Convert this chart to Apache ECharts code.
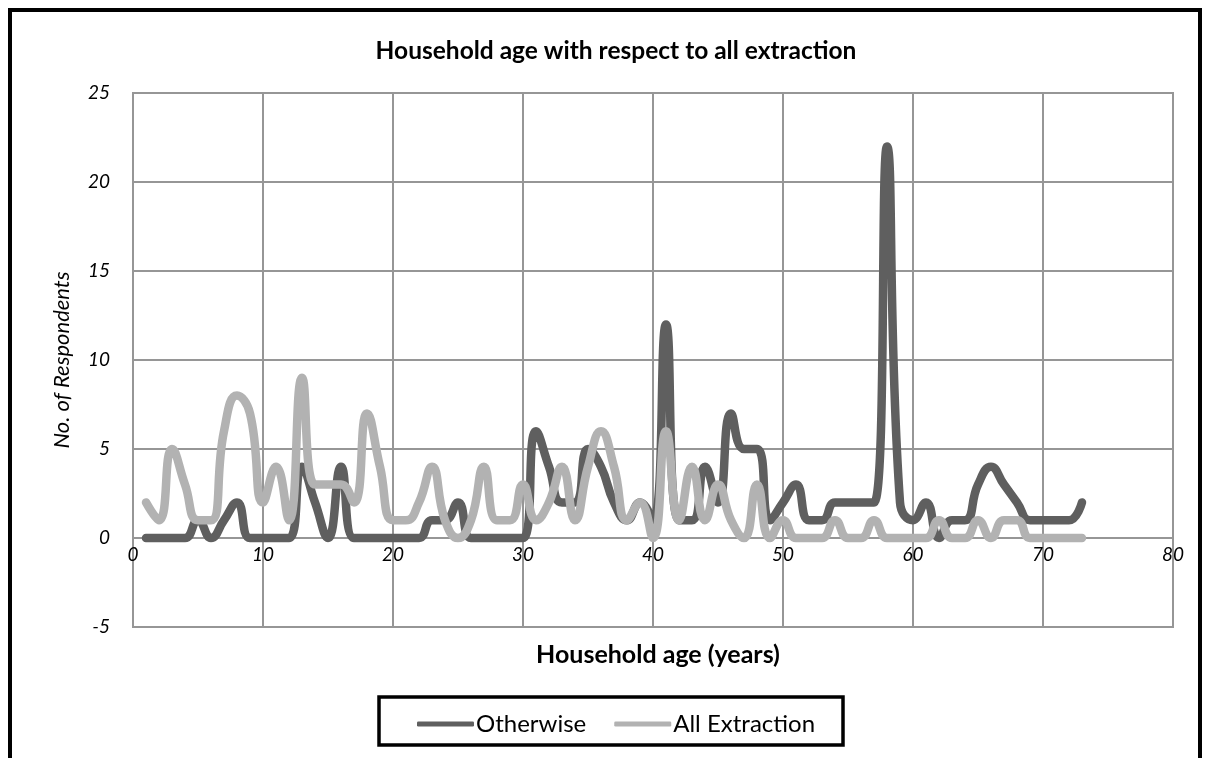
<!DOCTYPE html>
<html><head><meta charset="utf-8">
<script src="https://cdn.jsdelivr.net/npm/echarts@6/dist/echarts.min.js"></script>
<style>html,body{margin:0;padding:0;background:#fff}#c{width:1212px;height:758px}</style>
</head><body><div id="c"></div>
<script>
const ages = [1,2,3,4,5,6,7,8,9,10,11,12,13,14,15,16,17,18,19,20,21,22,23,24,25,26,27,28,29,30,31,32,33,34,35,36,37,38,39,40,41,42,43,44,45,46,47,48,49,50,51,52,53,54,55,56,57,58,59,60,61,62,63,64,65,66,67,68,69,70,71,72,73];
const otherwise = [0,0,0,0,1,0,1,2,0,0, 0,0,4,2,0,4,0,0,0,0, 0,0,1,1,2,0,0,0,0,0, 6,4,2,2,5,4,2,1,2,1, 12,1,1,4,2,7,5,5,1,2, 3,1,1,2,2,2,2,22,2,1, 2,0,1,1,3,4,3,2,1,1, 1,1,2];
const allExtraction = [2,1,5,3,1,1,6,8,7,2, 4,1,9,3,3,3,2,7,4,1, 1,2,4,1,0,1,4,1,1,3, 1,2,4,1,4,6,4,1,2,0, 6,1,4,1,3,1,0,3,0,1, 0,0,0,1,0,0,1,0,0,0, 0,1,0,0,1,0,1,1,0,0, 0,0,0];
const seriesNames = ['Otherwise', 'All Extraction'];
const xTicks = [0,10,20,30,40,50,60,70,80];
const yTicks = [-5,0,5,10,15,20,25];
const titleText = 'Household age with respect to all extraction';
const xName = 'Household age (years)';
const yName = 'No. of Respondents';

const FONT = 'Lato';
const chart = echarts.init(document.getElementById('c'), null, {renderer: 'canvas'});
const pairs = arr => ages.map((a, i) => [a, arr[i]]);
const gridColor = '#969696';
const darkColor = '#5f5f5f';
const lightColor = '#b2b2b2';

chart.setOption({
  animation: false,
  backgroundColor: '#fff',
  title: [
    {text: titleText, left: 611, top: 34, textAlign: 'center',
     textStyle: {fontFamily: FONT, fontWeight: 'bold', fontSize: 24.5, color: '#000'}},
    {text: xName, left: 653, top: 637, textAlign: 'center',
     textStyle: {fontFamily: FONT, fontWeight: 'bold', fontSize: 25, color: '#000'}}
  ],
  graphic: [
    {type: 'rect', shape: {x: 10, y: 10, width: 1190, height: 770}, style: {fill: 'none', stroke: '#000', lineWidth: 4}},
    {type: 'rect', shape: {x: 379, y: 697, width: 464, height: 48}, style: {fill: 'none', stroke: '#000', lineWidth: 3.5}}
  ],
  legend: {
    data: [
      {name: seriesNames[0], icon: 'roundRect', itemStyle: {color: darkColor}},
      {name: seriesNames[1], icon: 'roundRect', itemStyle: {color: lightColor}}
    ],
    left: 412, top: 707, itemWidth: 57, itemHeight: 5, itemGap: 28,
    textStyle: {fontFamily: FONT, fontSize: 24, color: '#000', padding: [0, 0, 0, -3]}
  },
  grid: {left: 133, right: 39, top: 93, bottom: 131, show: true, borderColor: gridColor, borderWidth: 2},
  xAxis: {
    type: 'value', min: 0, max: 80, interval: 10,
    offset: -89,
    axisLine: {onZero: false, lineStyle: {color: gridColor, width: 2}},
    axisTick: {show: false},
    axisLabel: {fontFamily: FONT, fontStyle: 'italic', fontSize: 19, color: '#000', margin: 7},
    splitLine: {show: true, lineStyle: {color: gridColor, width: 2}}
  },
  yAxis: {
    type: 'value', min: -5, max: 25, interval: 5,
    name: yName, nameLocation: 'middle', nameGap: 60, nameRotate: 90,
    nameTextStyle: {fontFamily: FONT, fontStyle: 'italic', fontSize: 22, color: '#000'},
    axisLine: {show: false},
    axisTick: {show: false},
    axisLabel: {fontFamily: FONT, fontStyle: 'italic', fontSize: 19, color: '#000', margin: 23},
    splitLine: {show: true, lineStyle: {color: gridColor, width: 2}}
  },
  series: [
    {name: seriesNames[0], type: 'line', data: pairs(otherwise), smooth: 0.5, symbol: 'none',
     lineStyle: {color: darkColor, width: 8.5, cap: 'round', join: 'round'}, itemStyle: {color: darkColor}},
    {name: seriesNames[1], type: 'line', data: pairs(allExtraction), smooth: 0.5, symbol: 'none',
     lineStyle: {color: lightColor, width: 8.5, cap: 'round', join: 'round'}, itemStyle: {color: lightColor}}
  ]
});
</script></body></html>
